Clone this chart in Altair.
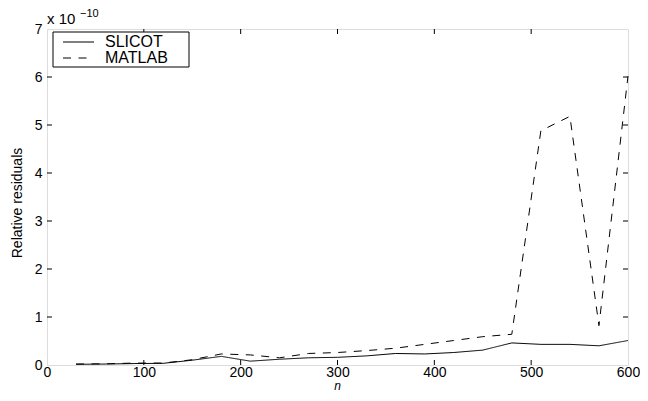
import altair as alt
import pandas as pd

n_vals = [30, 60, 90, 120, 150, 180, 210, 240, 270, 300, 330, 360, 390, 420, 450, 480, 510, 540, 570, 600]
slicot = [0.015, 0.02, 0.03, 0.035, 0.10, 0.18, 0.08, 0.12, 0.15, 0.16, 0.19, 0.24, 0.23, 0.26, 0.31, 0.46, 0.43, 0.43, 0.40, 0.51]
matlab = [0.02, 0.025, 0.04, 0.04, 0.11, 0.23, 0.21, 0.15, 0.24, 0.26, 0.30, 0.35, 0.43, 0.51, 0.59, 0.64, 4.88, 5.18, 0.82, 6.02]
series_names = ["SLICOT", "MATLAB"]
series_dash = [[1, 0], [8, 7.5]]
x_ticks = [0, 100, 200, 300, 400, 500, 600]
y_ticks = [0, 1, 2, 3, 4, 5, 6, 7]
x_title = "n"
y_title = "Relative residuals"
exp_base = "x 10"
exp_power = "\u221210"

W, H = 581, 336
FONT = "Liberation Sans"

rows = []
for i, n in enumerate(n_vals):
    rows.append({"n": n, "v": slicot[i], "s": "SLICOT"})
    rows.append({"n": n, "v": matlab[i], "s": "MATLAB"})
df = pd.DataFrame(rows)

xs = alt.Scale(domain=[0, 600], nice=False)
ys = alt.Scale(domain=[0, 7], nice=False)

lines = alt.Chart(df).mark_line(color="black", strokeWidth=1).encode(
    x=alt.X("n:Q", scale=xs,
            axis=alt.Axis(values=x_ticks, title=None, labelFont=FONT,
                          labelFontSize=14, labelColor="black", domain=False, ticks=False,
                          grid=False, labelPadding=0, labelFlush=False)),
    y=alt.Y("v:Q", scale=ys,
            axis=alt.Axis(values=y_ticks, title=None, labelFont=FONT,
                          labelFontSize=14, labelColor="black", domain=False, ticks=False,
                          grid=False, labelPadding=5, labelFlush=False)),
    strokeDash=alt.StrokeDash("s:N", scale=alt.Scale(domain=series_names, range=series_dash), legend=None),
)

xt = pd.DataFrame({"t": x_ticks[1:-1]})
yt = pd.DataFrame({"t": y_ticks[1:-1]})
bt = alt.Chart(xt).mark_rule(color="black").encode(x=alt.X("t:Q", scale=xs), y=alt.value(H), y2=alt.value(H - 5))
tt = alt.Chart(xt).mark_rule(color="black").encode(x=alt.X("t:Q", scale=xs), y=alt.value(0), y2=alt.value(5))
lt = alt.Chart(yt).mark_rule(color="black").encode(y=alt.Y("t:Q", scale=ys), x=alt.value(0), x2=alt.value(5))
rt = alt.Chart(yt).mark_rule(color="black").encode(y=alt.Y("t:Q", scale=ys), x=alt.value(W), x2=alt.value(W - 5))

txt = pd.DataFrame({"a": [exp_base], "b": [exp_power], "xt": [x_title], "yt": [y_title]})
t1 = alt.Chart(txt).mark_text(font=FONT, fontSize=15, align="left", baseline="alphabetic", color="black").encode(
    text="a:N", x=alt.value(0), y=alt.value(-5))
t2 = alt.Chart(txt).mark_text(font=FONT, fontSize=11, align="left", baseline="alphabetic", color="black").encode(
    text="b:N", x=alt.value(33), y=alt.value(-12))
t3 = alt.Chart(txt).mark_text(font=FONT, fontSize=12, fontStyle="italic", align="center", baseline="bottom",
                              color="black").encode(text="xt:N", x=alt.value(W / 2), y=alt.value(H + 28))
t4 = alt.Chart(txt).mark_text(font=FONT, fontSize=14, angle=270, align="center", baseline="middle",
                              color="black").encode(text="yt:N", x=alt.value(-29), y=alt.value(174))

# manual legend
box = alt.Chart(txt).mark_rect(fill="white", stroke="black", strokeWidth=1).encode(
    x=alt.value(6), x2=alt.value(142), y=alt.value(3), y2=alt.value(38))
legend_layers = [box]
for i, name in enumerate(series_names):
    ld = pd.DataFrame({"s": [name]})
    yy = 13 + 16 * i
    legend_layers.append(alt.Chart(ld).mark_rule(color="black", strokeWidth=1, strokeDash=series_dash[i]).encode(
        x=alt.value(16), x2=alt.value(47), y=alt.value(yy)))
    legend_layers.append(alt.Chart(ld).mark_text(font=FONT, fontSize=16, align="left", baseline="middle",
                                                 color="black").encode(
        text="s:N", x=alt.value(58), y=alt.value(yy)))

chart = alt.layer(lines, bt, tt, lt, rt, t1, t2, t3, t4, *legend_layers).properties(
    width=W, height=H, autosize=alt.AutoSizeParams(type="none"),
    padding={"left": 39, "top": 21, "right": 12, "bottom": 28},
).configure_view(stroke="black", strokeWidth=1).configure(background="white")

chart.save("out.html", embed_options={"renderer": "svg", "actions": False})
